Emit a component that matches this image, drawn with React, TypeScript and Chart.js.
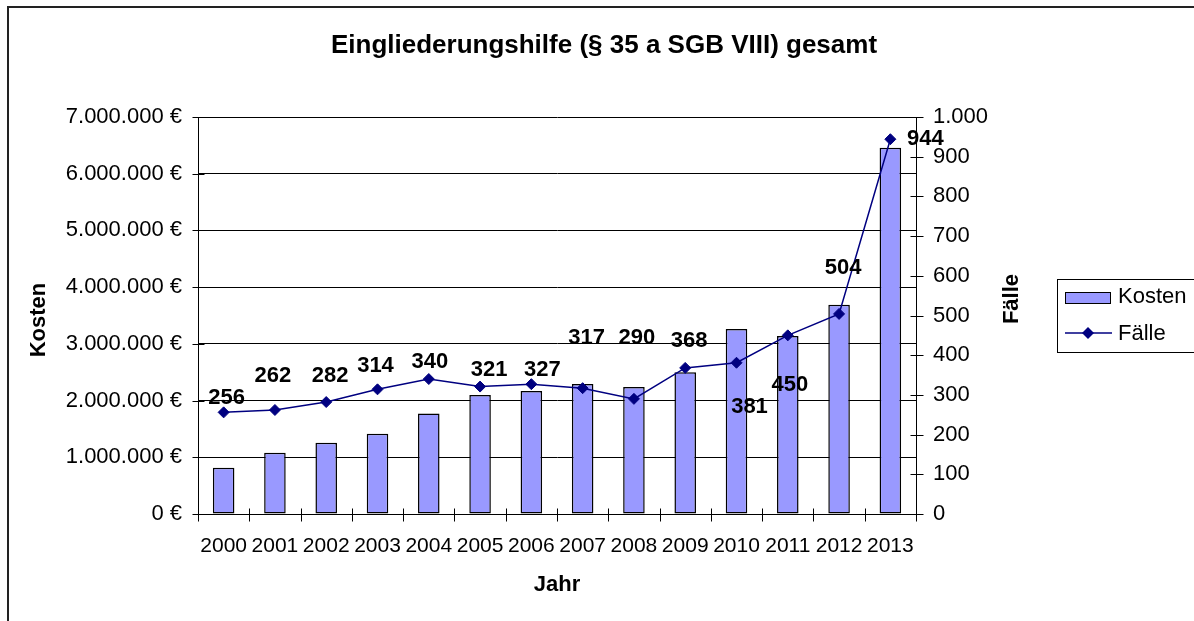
import React, { useEffect, useRef } from 'react';
import { Chart, registerables } from 'chart.js';

Chart.register(...registerables);

// ---- data ----
const years = ['2000', '2001', '2002', '2003', '2004', '2005', '2006', '2007', '2008', '2009', '2010', '2011', '2012', '2013'];
const kosten = [815000, 1080000, 1255000, 1415000, 1770000, 2100000, 2170000, 2290000, 2240000, 2500000, 3260000, 3140000, 3690000, 6460000];
const faelle = [256, 262, 282, 314, 340, 321, 327, 317, 290, 368, 381, 450, 504, 944];
const seriesNames = ['Kosten', 'Fälle'];
const chartTitle = 'Eingliederungshilfe (§ 35 a SGB VIII) gesamt';
const xTitle = 'Jahr';
const yTitle = 'Kosten';
const y1Title = 'Fälle';
const kostenMax = 7000000;
const kostenStep = 1000000;
const faelleMax = 1000;
const faelleStep = 100;

// label placement (styling, offsets from each point in px)
const labelOffsets: [number, number][] = [
  [3, -14], [-2, -34], [4, -26], [-2, -23], [1, -17], [9, -17], [11, -14],
  [4, -50], [3, -61], [4, -27], [13, 44], [2, 50], [4, -46], [35, 0],
];

const FONT = "'Liberation Sans', Arial, Helvetica, sans-serif";
const BAR_FILL = '#9999FF';
const LINE_COLOR = '#000080';

function fmt(n: number): string {
  return String(Math.round(n)).replace(/\B(?=(\d{3})+(?!\d))/g, '.');
}

const decorPlugin = {
  id: 'decor',
  afterDatasetsDraw(chart: any) {
    const { ctx } = chart;
    const meta = chart.getDatasetMeta(1);
    ctx.save();
    ctx.fillStyle = '#000';
    ctx.font = `bold 22px ${FONT}`;
    ctx.textAlign = 'center';
    ctx.textBaseline = 'middle';
    meta.data.forEach((pt: any, i: number) => {
      const [dx, dy] = labelOffsets[i] || [0, -20];
      ctx.fillText(String(faelle[i]), pt.x + dx, pt.y + dy);
    });
    ctx.restore();
  },
  afterDraw(chart: any) {
    const { ctx, chartArea: a, scales } = chart;
    ctx.save();
    // outer frame
    ctx.strokeStyle = '#222';
    ctx.lineWidth = 2;
    ctx.beginPath();
    ctx.moveTo(8, 700);
    ctx.lineTo(8, 7);
    ctx.lineTo(1300, 7);
    ctx.stroke();

    // tick marks crossing axes
    ctx.strokeStyle = '#000';
    ctx.lineWidth = 1;
    ctx.beginPath();
    const L = Math.round(a.left) + 0.5;
    const R = Math.round(a.right) + 0.5;
    const B = Math.round(a.bottom) + 0.5;
    scales.y.ticks.forEach((t: any) => {
      const p = Math.round(scales.y.getPixelForValue(t.value)) + 0.5;
      ctx.moveTo(L - 6, p);
      ctx.lineTo(L + 6, p);
    });
    scales.y1.ticks.forEach((t: any) => {
      const p = Math.round(scales.y1.getPixelForValue(t.value)) + 0.5;
      ctx.moveTo(R - 6, p);
      ctx.lineTo(R + 7, p);
    });
    for (let i = 0; i <= years.length; i++) {
      const p = Math.round(scales.x.getPixelForValue(i - 0.5)) + 0.5;
      ctx.moveTo(p, B - 6);
      ctx.lineTo(p, B + 7);
    }
    ctx.stroke();

    // titles
    ctx.fillStyle = '#000';
    ctx.textAlign = 'center';
    ctx.textBaseline = 'middle';
    ctx.font = `bold 26px ${FONT}`;
    ctx.fillText(chartTitle, 604, 46);

    ctx.font = `bold 22px ${FONT}`;
    ctx.save();
    ctx.translate(39, 320);
    ctx.rotate(-Math.PI / 2);
    ctx.fillText(yTitle, 0, 0);
    ctx.restore();
    ctx.save();
    ctx.translate(1012, 299);
    ctx.rotate(-Math.PI / 2);
    ctx.fillText(y1Title, 0, 0);
    ctx.restore();

    // legend
    ctx.strokeStyle = '#000';
    ctx.lineWidth = 1;
    ctx.strokeRect(1057.5, 279.5, 200, 73);
    ctx.fillStyle = BAR_FILL;
    ctx.fillRect(1065.5, 292.5, 45, 11);
    ctx.strokeRect(1065.5, 292.5, 45, 11);
    ctx.strokeStyle = LINE_COLOR;
    ctx.lineWidth = 1.5;
    ctx.beginPath();
    ctx.moveTo(1065, 333);
    ctx.lineTo(1112, 333);
    ctx.stroke();
    ctx.fillStyle = LINE_COLOR;
    ctx.beginPath();
    ctx.moveTo(1088, 327);
    ctx.lineTo(1094, 333);
    ctx.lineTo(1088, 339);
    ctx.lineTo(1082, 333);
    ctx.closePath();
    ctx.fill();
    ctx.fillStyle = '#000';
    ctx.textAlign = 'left';
    ctx.font = `22px ${FONT}`;
    ctx.fillText(seriesNames[0], 1118, 297);
    ctx.fillText(seriesNames[1], 1118, 334);
    ctx.restore();
  },
};

export default function App() {
  const ref = useRef<HTMLCanvasElement | null>(null);

  useEffect(() => {
    if (!ref.current) return;
    const chart = new Chart(ref.current, {
      type: 'bar',
      data: {
        labels: years,
        datasets: [
          {
            type: 'bar',
            label: seriesNames[0],
            data: kosten,
            yAxisID: 'y',
            backgroundColor: BAR_FILL,
            borderColor: '#000',
            borderWidth: 1.5,
            borderSkipped: false,
            barPercentage: 0.42,
            categoryPercentage: 1,
            order: 1,
          },
          {
            type: 'line',
            label: seriesNames[1],
            data: faelle,
            yAxisID: 'y1',
            borderColor: LINE_COLOR,
            borderWidth: 1.5,
            backgroundColor: LINE_COLOR,
            pointStyle: 'rectRot',
            pointRadius: 5.5,
            pointBackgroundColor: LINE_COLOR,
            pointBorderColor: LINE_COLOR,
            pointBorderWidth: 1,
            tension: 0,
            fill: false,
            order: 0,
          },
        ],
      },
      options: {
        responsive: false,
        animation: false,
        layout: { padding: { top: 117, left: 0, right: 0, bottom: 0 } },
        plugins: {
          legend: { display: false },
          tooltip: { enabled: false },
          title: { display: false },
        },
        scales: {
          x: {
            type: 'category',
            offset: true,
            grid: { display: false, drawTicks: false },
            border: { display: true, color: '#000', width: 1 },
            ticks: {
              color: '#000',
              font: { family: FONT, size: 21 },
              padding: 20,
              autoSkip: false,
              maxRotation: 0,
              minRotation: 0,
            },
            title: {
              display: true,
              text: xTitle,
              color: '#000',
              font: { family: FONT, size: 22, weight: 'bold' },
              padding: { top: 0, bottom: 23 },
            },
            afterFit: (s: any) => {
              s.height = 107;
            },
          },
          y: {
            type: 'linear',
            position: 'left',
            min: 0,
            max: kostenMax,
            ticks: {
              stepSize: kostenStep,
              padding: 16,
              color: '#000',
              font: { family: FONT, size: 22 },
              callback: (v: any) => fmt(Number(v)) + ' €',
            },
            grid: { color: '#000', lineWidth: 1, drawTicks: false },
            border: { display: true, color: '#000', width: 1 },
            afterFit: (s: any) => {
              s.width = 198;
            },
          },
          y1: {
            type: 'linear',
            position: 'right',
            min: 0,
            max: faelleMax,
            ticks: {
              stepSize: faelleStep,
              padding: 17,
              color: '#000',
              font: { family: FONT, size: 22 },
              callback: (v: any) => fmt(Number(v)),
            },
            grid: { display: false, drawTicks: false },
            border: { display: true, color: '#000', width: 1 },
            afterFit: (s: any) => {
              s.width = 278;
            },
          },
        },
      } as any,
      plugins: [decorPlugin],
    });
    return () => chart.destroy();
  }, []);

  return (
    <div style={{ position: 'absolute', left: 0, top: 0, width: 1194, height: 621, background: '#fff' }}>
      <canvas ref={ref} width={1194} height={621} style={{ display: 'block', width: 1194, height: 621 }} />
    </div>
  );
}
